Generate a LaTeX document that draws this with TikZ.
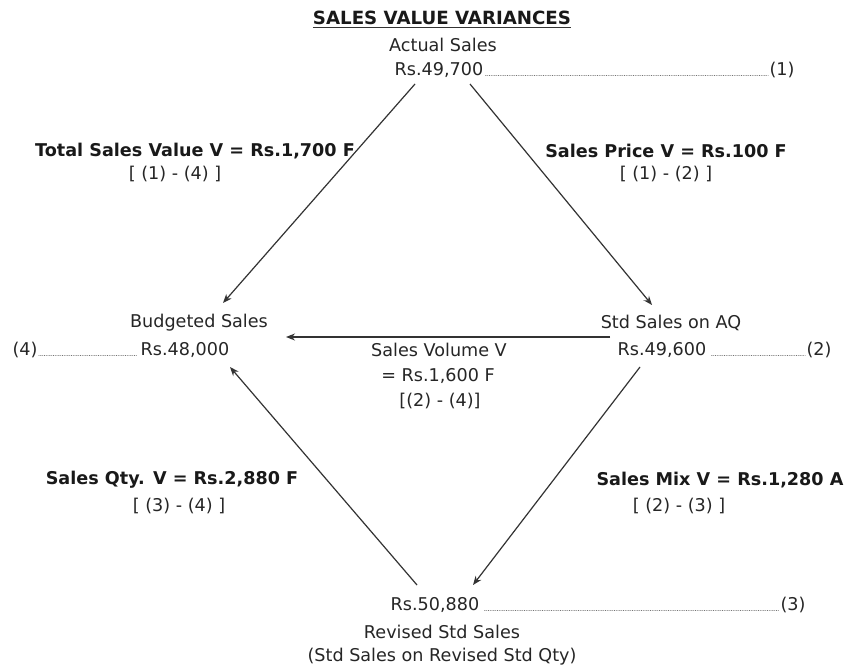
\documentclass[tikz,border=0pt]{standalone}
\usepackage{fontspec}
\setmainfont{DejaVu Sans}
\usetikzlibrary{arrows.meta}
\begin{document}
\begin{tikzpicture}[x=1pt,y=-1pt,
  lbl/.style={inner sep=0pt, font=\fontsize{17.6}{20}\selectfont, text=black!85},
  blbl/.style={inner sep=0pt, font=\fontsize{17.6}{20}\selectfont\bfseries, text=black!90},
  arr/.style={draw=black!80, line width=1.2pt, -{Stealth[length=9pt,width=7pt]}},
  dotl/.style={draw=black!55, line width=0.7pt, dash pattern=on 0.8pt off 1pt}]
\useasboundingbox[fill=white] (0,0) rectangle (845,668);

% title
\node[blbl, font=\fontsize{18.2}{20}\selectfont\bfseries] (title) at (442,18) {SALES VALUE VARIANCES};
\draw[black!80, line width=1.8pt] ([yshift=-2.5pt]title.south west) -- ([yshift=-2.5pt]title.south east);

% top: actual sales
\node[lbl] (act) at (443,45) {Actual Sales};
\node[lbl] (r1) at (439,70) {Rs.49,700};
\node[lbl] (n1) at (782,70) {(1)};
\draw[dotl] ([xshift=2pt]r1.base east) -- ([xshift=-1pt]n1.base west);

% left: budgeted sales
\node[lbl] (bud) at (199,323) {Budgeted Sales};
\node[lbl] (r4) at (185,350) {Rs.48,000};
\node[lbl] (n4) at (25,350) {(4)};
\draw[dotl] ([xshift=1pt]n4.base east) -- ([xshift=-3pt]r4.base west);

% right: std sales on AQ
\node[lbl] (std) at (671,323) {Std Sales on AQ};
\node[lbl] (r2) at (662,350) {Rs.49,600};
\node[lbl] (n2) at (819,350) {(2)};
\draw[dotl] ([xshift=5pt]r2.base east) -- ([xshift=-1pt]n2.base west);

% bottom: revised std sales
\node[lbl] (r3) at (435,605) {Rs.50,880};
\node[lbl] (n3) at (793,605) {(3)};
\draw[dotl] ([xshift=5pt]r3.base east) -- ([xshift=-1pt]n3.base west);
\node[lbl] (rev) at (442,632) {Revised Std Sales};
\node[lbl] (revq) at (442,657) {(Std Sales on Revised Std Qty)};

% variance labels
\node[blbl] (tsv) at (195,151) {Total Sales Value V = Rs.1,700 F};
\node[lbl] (tsvf) at (175,174) {[ (1) - (4) ]};
\node[blbl] (spv) at (666,151) {Sales Price V = Rs.100 F};
\node[lbl] (spvf) at (666,174) {[ (1) - (2) ]};
\node[lbl] (svv) at (439,350) {Sales Volume V};
\node[lbl] (svv2) at (438,376) {= Rs.1,600 F};
\node[lbl] (svvf) at (440,401) {[(2) - (4)]};
\node[blbl] (sqv) at (172,480) {Sales Qty. V = Rs.2,880 F};
\node[lbl] (sqvf) at (179,506) {[ (3) - (4) ]};
\node[blbl] (smv) at (720,480) {Sales Mix V = Rs.1,280 A};
\node[lbl] (smvf) at (679,506) {[ (2) - (3) ]};

% connector end points
\coordinate (a1s) at (415,84);  \coordinate (a1e) at (223,303);
\coordinate (a2s) at (470,84);  \coordinate (a2e) at (652,305);
\coordinate (a3s) at (610,337); \coordinate (a3e) at (286,337);
\coordinate (a4s) at (417,585); \coordinate (a4e) at (230,367);
\coordinate (a5s) at (640,367); \coordinate (a5e) at (473,585);

\draw[arr] (a1s) -- (a1e);
\draw[arr] (a2s) -- (a2e);
\draw[arr] (a3s) -- (a3e);
\draw[arr] (a4s) -- (a4e);
\draw[arr] (a5s) -- (a5e);
\end{tikzpicture}
\end{document}
